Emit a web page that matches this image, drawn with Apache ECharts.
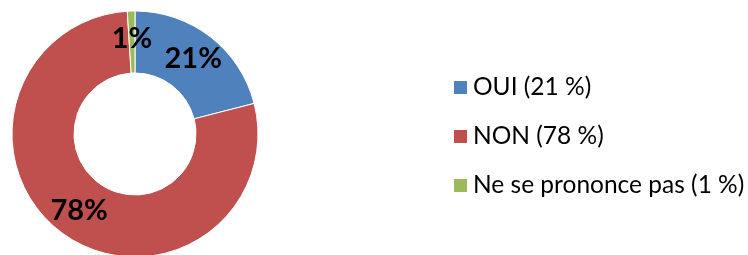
<!DOCTYPE html>
<html style="height: 100%">
<head>
<meta charset="UTF-8">
</head>
<body style="height: 100%; margin: 0; background: #fff">
<div id="container" style="width: 748px; height: 255px"></div>
<script src="https://cdn.jsdelivr.net/npm/echarts@6/dist/echarts.min.js"></script>
<script type="text/javascript">
var categories = ['OUI (21 %)', 'NON (78 %)', 'Ne se prononce pas (1 %)'];
var values = [21, 78, 1];
var colors = ['#4F81BD', '#C0504D', '#9BBB59'];

var pieData = [];
for (var i = 0; i < categories.length; i++) {
	pieData.push({ name: categories[i], value: values[i], itemStyle: { color: colors[i] } });
}

var myChart = echarts.init(document.getElementById('container'));
var option = {
	animation: false,
	legend: {
		orient: 'vertical',
		left: 452,
		top: 75,
		padding: 0,
		itemWidth: 15,
		itemHeight: 15,
		itemGap: 24,
		icon: 'rect',
		data: categories,
		textStyle: {
			fontFamily: 'Lato',
			fontSize: 24.5,
			lineHeight: 24.5,
			color: '#000'
		}
	},
	series: [{
		type: 'pie',
		center: [135, 134],
		radius: [61, 123],
		startAngle: 90,
		clockwise: true,
		itemStyle: { borderColor: '#fff', borderWidth: 1 },
		label: {
			show: true,
			position: 'inside',
			formatter: '{c}%',
			fontFamily: 'Lato',
			fontWeight: 'bold',
			fontSize: 29,
			color: '#000'
		},
		labelLine: { show: false },
		data: pieData
	}]
};
myChart.setOption(option);
</script>
</body>
</html>
